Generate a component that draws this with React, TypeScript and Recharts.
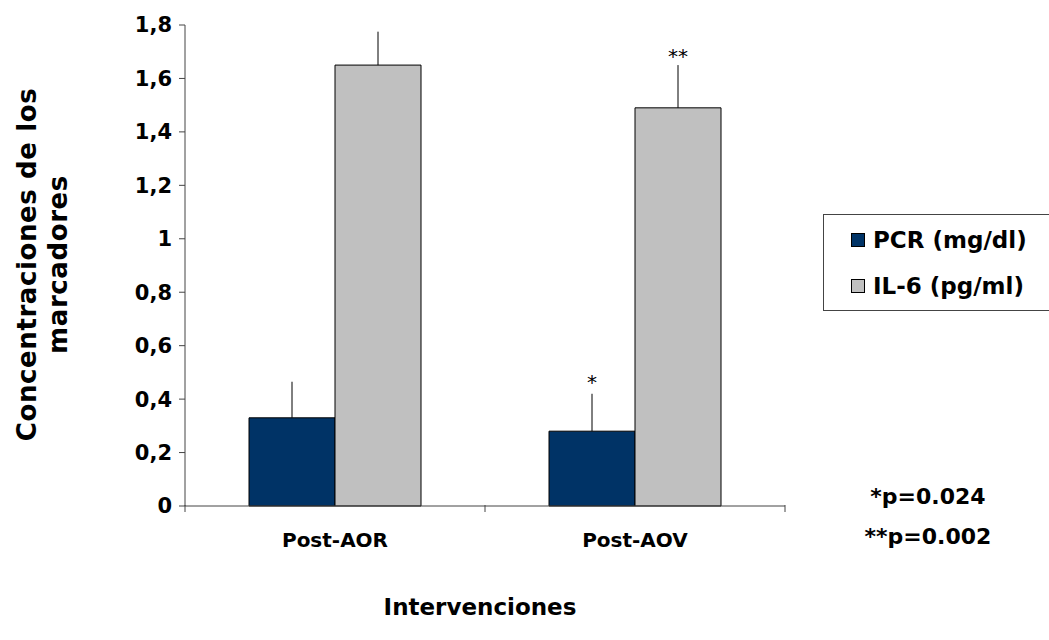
import React from "react";
import { BarChart, Bar, XAxis, YAxis, ErrorBar, LabelList } from "recharts";

const categories = ["Post-AOR", "Post-AOV"];
const pcr = [0.33, 0.28];
const pcrErr = [0.135, 0.14];
const il6 = [1.65, 1.49];
const il6Err = [0.125, 0.16];
const pcrMarks = ["", "*"];
const il6Marks = ["", "**"];
const yTicks = [0, 0.2, 0.4, 0.6, 0.8, 1, 1.2, 1.4, 1.6, 1.8];
const legendItems = ["PCR (mg/dl)", "IL-6 (pg/ml)"];
const notes = ["*p=0.024", "**p=0.002"];

const FONT = "'DejaVu Sans', Verdana, sans-serif";
const NAVY = "#003366";
const GREY = "#C0C0C0";
const AXIS = "#444";

const W = 1049;
const H = 640;
const M = { top: 25, right: 264, bottom: 0, left: 0 };
const Y_W = 185;
const X_H = 134;
const BAND = (W - M.left - M.right - Y_W) / categories.length;

const data = categories.map((c, i) => ({
  name: c,
  pcr: pcr[i],
  pcrErr: [0, pcrErr[i]],
  il6: il6[i],
  il6Err: [0, il6Err[i]],
  pcrMark: pcrMarks[i],
  il6Mark: il6Marks[i],
}));

function fmt(v: number) {
  return String(v).replace(".", ",");
}

function XTick(props: any) {
  const { x, y, payload, index } = props;
  const half = BAND / 2;
  return (
    <g>
      {index === 0 && <line x1={x - half} x2={x - half} y1={y - 9} y2={y - 2} stroke={AXIS} />}
      <line x1={x + half} x2={x + half} y1={y - 9} y2={y - 2} stroke={AXIS} />
      <text x={x} y={y + 33} textAnchor="middle" fontFamily={FONT} fontWeight="bold" fontSize={20} fill="#000">
        {payload.value}
      </text>
    </g>
  );
}

function YTitle(props: any) {
  const { viewBox } = props;
  const cy = viewBox.y + viewBox.height / 2 - 1;
  const common = {
    textAnchor: "middle" as const,
    fontFamily: FONT,
    fontWeight: "bold",
    fontSize: 26,
    letterSpacing: 0.6,
    fill: "#000",
  };
  return (
    <g>
      <text transform={`translate(36, ${cy}) rotate(-90)`} {...common}>
        Concentraciones de los
      </text>
      <text transform={`translate(67, ${cy}) rotate(-90)`} {...common}>
        marcadores
      </text>
    </g>
  );
}

function XTitle(props: any) {
  const { viewBox } = props;
  return (
    <text
      x={viewBox.x + viewBox.width / 2 - 5}
      y={615}
      textAnchor="middle"
      fontFamily={FONT}
      fontWeight="bold"
      fontSize={23}
      fill="#000"
    >
      Intervenciones
    </text>
  );
}

// asterisk above the error bar: error length converted with the bar's own px/unit
function markLabel(errs: number[], vals: number[], gap: number) {
  return (props: any) => {
    const { x, y, width, height, value, index } = props;
    if (!value) return null;
    const errPx = (errs[index] * height) / vals[index];
    return (
      <text x={x + width / 2} y={y - errPx - gap} textAnchor="middle" fontFamily={FONT} fontSize={20} fill="#000">
        {value}
      </text>
    );
  };
}

export default function App() {
  const colors = [NAVY, GREY];
  return (
    <div style={{ position: "absolute", left: 0, top: 0, width: W, height: H, background: "#fff" }}>
      <BarChart width={W} height={H} data={data} margin={M} barGap={0} barCategoryGap={64}>
        <XAxis
          dataKey="name"
          height={X_H}
          stroke={AXIS}
          tickLine={false}
          tick={<XTick />}
          interval={0}
          label={{ content: XTitle }}
        />
        <YAxis
          width={Y_W}
          domain={[0, 1.8]}
          ticks={yTicks}
          tickFormatter={fmt}
          stroke={AXIS}
          tickSize={6}
          tickMargin={7}
          tick={{ fontFamily: FONT, fontWeight: "bold", fontSize: 21, fill: "#000" }}
          label={{ content: YTitle }}
        />
        <Bar dataKey="pcr" name={legendItems[0]} fill={NAVY} stroke="#000" strokeWidth={1} isAnimationActive={false}>
          <ErrorBar dataKey="pcrErr" width={0} stroke="#000" strokeWidth={1} direction="y" />
          <LabelList dataKey="pcrMark" content={markLabel(pcrErr, pcr, 5)} />
        </Bar>
        <Bar dataKey="il6" name={legendItems[1]} fill={GREY} stroke="#000" strokeWidth={1} isAnimationActive={false}>
          <ErrorBar dataKey="il6Err" width={0} stroke="#000" strokeWidth={1} direction="y" />
          <LabelList dataKey="il6Mark" content={markLabel(il6Err, il6, 2)} />
        </Bar>
      </BarChart>
      <div
        style={{
          position: "absolute",
          left: 823,
          top: 214,
          width: 226,
          height: 97,
          border: "1px solid #444",
          borderRight: "none",
          background: "#fff",
          boxSizing: "border-box",
          padding: "2px 0 0 27px",
          fontFamily: FONT,
          fontWeight: "bold",
          fontSize: 23,
        }}
      >
        {legendItems.map((label, i) => (
          <div key={label} style={{ display: "flex", alignItems: "center", height: 46 }}>
            <span
              style={{
                display: "inline-block",
                width: 12,
                height: 12,
                background: colors[i],
                border: "1px solid #000",
                marginRight: 8,
              }}
            />
            <span>{label}</span>
          </div>
        ))}
      </div>
      <div
        style={{
          position: "absolute",
          left: 813,
          width: 230,
          top: 477,
          textAlign: "center",
          fontFamily: FONT,
          fontWeight: "bold",
          fontSize: 22,
          lineHeight: "40px",
        }}
      >
        {notes.map((n) => (
          <div key={n}>{n}</div>
        ))}
      </div>
    </div>
  );
}
